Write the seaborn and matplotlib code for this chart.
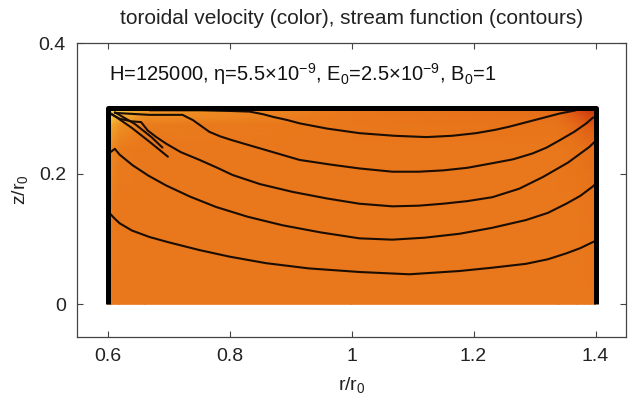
import numpy as np
import pandas as pd
import matplotlib
matplotlib.use("Agg")
import matplotlib.pyplot as plt
from matplotlib.colors import LinearSegmentedColormap
import seaborn as sns

# ---- data ----
title = "toroidal velocity (color), stream function (contours)"
params_text = r"H=125000, η=5.5$\times$10$^{-9}$, E$_0$=2.5$\times$10$^{-9}$, B$_0$=1"

x_ticks = [0.6, 0.8, 1.0, 1.2, 1.4]
x_ticklabels = ["0.6", "0.8", "1", "1.2", "1.4"]
y_ticks = [0.0, 0.2, 0.4]
y_ticklabels = ["0", "0.2", "0.4"]

# toroidal velocity field (normalised colour value) on a coarse grid
r_grid = [0.600, 0.606, 0.620, 0.660, 1.000, 1.340, 1.370, 1.390, 1.400]
z_grid = [0.000, 0.150, 0.240, 0.275, 0.292, 0.300]
v_field = [
    [0.50, 0.50, 0.50, 0.50, 0.50, 0.50, 0.50, 0.50, 0.50],
    [0.56, 0.53, 0.50, 0.50, 0.50, 0.50, 0.50, 0.49, 0.49],
    [0.66, 0.60, 0.53, 0.50, 0.50, 0.50, 0.48, 0.45, 0.44],
    [0.82, 0.76, 0.64, 0.53, 0.50, 0.48, 0.40, 0.32, 0.30],
    [0.97, 0.94, 0.84, 0.66, 0.50, 0.44, 0.28, 0.18, 0.16],
    [1.00, 0.98, 0.90, 0.72, 0.50, 0.42, 0.22, 0.12, 0.10],
]

# stream function contours (r, z)
line_a_r = [0.600, 0.605, 0.612, 0.620, 0.640, 0.669, 0.700, 0.751, 0.800, 0.860, 0.930, 1.013,
            1.095, 1.177, 1.230, 1.286, 1.322, 1.352, 1.375, 1.395, 1.400]
line_a_z = [0.134, 0.138, 0.131, 0.124, 0.113, 0.103, 0.095, 0.083, 0.073, 0.063, 0.055, 0.0495,
            0.046, 0.051, 0.056, 0.062, 0.069, 0.078, 0.086, 0.095, 0.097]
line_b_r = [0.600, 0.605, 0.612, 0.620, 0.641, 0.667, 0.696, 0.735, 0.778, 0.830, 0.887, 0.950,
            1.013, 1.067, 1.120, 1.177, 1.230, 1.286, 1.322, 1.352, 1.375, 1.395, 1.400]
line_b_z = [0.236, 0.233, 0.238, 0.229, 0.213, 0.197, 0.182, 0.165, 0.149, 0.134, 0.121, 0.110,
            0.101, 0.099, 0.102, 0.108, 0.117, 0.129, 0.140, 0.154, 0.166, 0.180, 0.184]
line_c_r = [0.604, 0.620, 0.640, 0.655, 0.666, 0.680, 0.696, 0.720, 0.751, 0.780, 0.805, 0.850,
            0.904, 0.960, 1.013, 1.067, 1.110, 1.150, 1.190, 1.231, 1.275, 1.314, 1.355, 1.390, 1.400]
line_c_z = [0.292, 0.284, 0.280, 0.279, 0.266, 0.256, 0.246, 0.233, 0.221, 0.209, 0.198, 0.184,
            0.172, 0.162, 0.154, 0.150, 0.151, 0.154, 0.158, 0.164, 0.177, 0.195, 0.217, 0.241, 0.250]
line_d_r = [0.612, 0.669, 0.723, 0.740, 0.755, 0.767, 0.785, 0.805, 0.860, 0.915, 0.965, 1.013,
            1.067, 1.110, 1.150, 1.190, 1.231, 1.265, 1.297, 1.320, 1.341, 1.365, 1.385, 1.396]
line_d_z = [0.293, 0.290, 0.290, 0.282, 0.272, 0.264, 0.257, 0.251, 0.236, 0.221, 0.214, 0.208,
            0.203, 0.203, 0.205, 0.209, 0.216, 0.222, 0.231, 0.240, 0.251, 0.264, 0.277, 0.286]
line_e_r = [0.669, 0.751, 0.800, 0.833, 0.855, 0.871, 0.895, 0.915, 0.960, 1.013, 1.070, 1.123,
            1.165, 1.204, 1.235, 1.259, 1.300, 1.341, 1.368]
line_e_z = [0.297, 0.297, 0.296, 0.295, 0.291, 0.287, 0.282, 0.277, 0.269, 0.262, 0.258, 0.256,
            0.258, 0.262, 0.267, 0.272, 0.282, 0.292, 0.297]
line_f_r = [0.606, 0.640, 0.670, 0.699]
line_f_z = [0.292, 0.270, 0.248, 0.226]
line_g_r = [0.612, 0.645, 0.672, 0.690]
line_g_z = [0.294, 0.276, 0.256, 0.240]

# container walls
wall_r = [0.600, 0.600, 1.400, 1.400]
wall_z = [0.000, 0.300, 0.300, 0.000]

# ---- figure ----
sns.set_theme(style="white")
plt.rcParams["font.family"] = ["Liberation Sans", "DejaVu Sans"]
plt.rcParams["mathtext.fontset"] = "custom"
plt.rcParams["mathtext.rm"] = "Liberation Sans"
plt.rcParams["mathtext.it"] = "Liberation Sans"
plt.rcParams["mathtext.default"] = "regular"

fig = plt.figure(figsize=(6.29, 4.05), dpi=100)
ax = fig.add_axes([77 / 629, 1 - 337 / 405, 549 / 629, 294 / 405])

cmap = LinearSegmentedColormap.from_list(
    "tor", ["#b81e0a", "#dc5012", "#e9771b", "#f2a52c", "#fbe04e"])
R, Z = np.meshgrid(np.array(r_grid), np.array(z_grid))
ax.pcolormesh(R, Z, np.array(v_field), cmap=cmap, vmin=0, vmax=1,
              shading="gouraud", zorder=1)

lines = {
    "a": (line_a_r, line_a_z), "b": (line_b_r, line_b_z),
    "c": (line_c_r, line_c_z), "d": (line_d_r, line_d_z),
    "e": (line_e_r, line_e_z), "f": (line_f_r, line_f_z),
    "g": (line_g_r, line_g_z),
}
rows = []
for name, (rr, zz) in lines.items():
    for i, (r, z) in enumerate(zip(rr, zz)):
        rows.append({"line": name, "order": i, "r": r, "z": z})
df = pd.DataFrame(rows)
sns.lineplot(data=df, x="r", y="z", units="line", estimator=None, sort=False,
             color="#1a0d04", lw=1.5, ax=ax, zorder=3, legend=False)

ax.plot(wall_r, wall_z, color="black", lw=3.6, solid_capstyle="butt",
        solid_joinstyle="round", zorder=4)

ax.set_xlim(0.55, 1.45)
ax.set_ylim(-0.05, 0.4)
ax.set_xticks(x_ticks)
ax.set_xticklabels(x_ticklabels)
ax.set_yticks(y_ticks)
ax.set_yticklabels(y_ticklabels)
ax.tick_params(direction="in", length=4, width=0.8, colors="#444444",
               labelcolor="#222222", labelsize=14, top=True, right=True,
               bottom=True, left=True, pad=8)
for s in ax.spines.values():
    s.set_color("#444444")
    s.set_linewidth(0.9)

ax.set_xlabel(r"r/r$_0$", fontsize=14, color="#222222", labelpad=7)
ax.set_ylabel(r"z/r$_0$", fontsize=14, color="#222222", labelpad=6)
ax.set_title(title, fontsize=15, color="#222222", pad=14)
ax.text(0.603, 0.352, params_text, fontsize=14.5, color="#111111",
        ha="left", va="center", zorder=5)

fig.savefig("out.png", dpi=100)
